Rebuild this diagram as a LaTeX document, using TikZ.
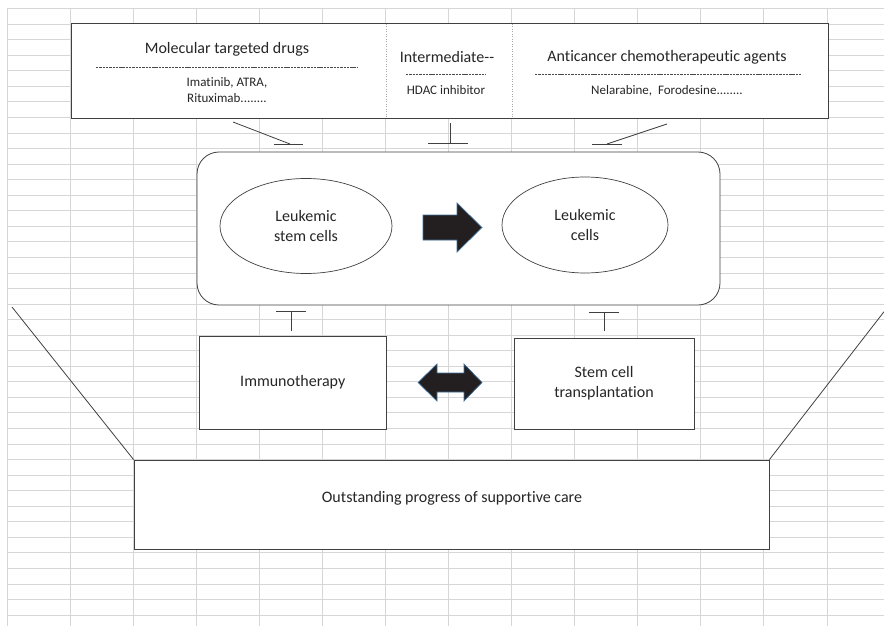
\documentclass[tikz,border=0pt]{standalone}
\usepackage{fontspec}
\setmainfont[Ligatures=NoCommon]{Carlito}
\usetikzlibrary{shapes.geometric}
\definecolor{gridc}{HTML}{D6D6D6}
\definecolor{linec}{HTML}{404040}
\definecolor{txtc}{HTML}{262626}
\definecolor{arrfill}{HTML}{231F20}
\definecolor{arrline}{HTML}{41719C}
\begin{document}
\begin{tikzpicture}[x=1pt,y=-1pt,
  gridline/.style={draw=gridc,line width=0.9pt},
  boxline/.style={draw=linec,line width=0.9pt},
  divider/.style={draw=gray!70,line width=0.5pt,dotted},
  sepline/.style={draw=txtc!85,line width=0.6pt,dash pattern=on 2.4pt off 0.9pt},
  conn/.style={draw=linec,line width=0.8pt},
  topbox/.style={rectangle,fill=white,inner sep=0pt,draw=none},
  bigtxt/.style={text=txtc,font=\fontsize{16}{20}\selectfont,inner sep=0pt,align=center},
  smalltxt/.style={text=txtc,font=\fontsize{13}{16}\selectfont,inner sep=0pt,align=center},
  plainbox/.style={rectangle,fill=white,boxline,inner sep=0pt,text=txtc,font=\fontsize{16}{20}\selectfont,align=center},
  cellshape/.style={ellipse,fill=white,draw=linec,line width=0.7pt,inner sep=0pt,text=txtc,font=\fontsize{16}{20}\selectfont,align=center},
  fatarrow/.style={fill=arrfill,draw=arrline,line width=0.7pt}
]
\useasboundingbox (0,0) rectangle (884,626);
\fill[white] (0,0) rectangle (884,626);
% spreadsheet grid
\foreach \k in {0,...,13} \draw[gridline] ({7+63.077*\k},8.6) -- ({7+63.077*\k},626);
\foreach \k in {0,...,39} \draw[gridline] (7,{8.6+15.55*\k}) -- (884,{8.6+15.55*\k});

% top boxes
\node[topbox,minimum width=314,minimum height=94] (mol) at (229,71) {};
\node[topbox,minimum width=126,minimum height=94] (mid) at (449,71) {};
\node[topbox,minimum width=316,minimum height=94] (anti) at (670,71) {};
\draw[boxline] (mol.north west) rectangle (anti.south east);
\draw[divider] (mid.north west) -- (mid.south west);
\draw[divider] (mid.north east) -- (mid.south east);

\node[bigtxt] (molt) at (227,49) {Molecular targeted drugs};
\draw[sepline] (96,67) -- (357,67);
\node[smalltxt] (mold) at (227,90) {Imatinib, ATRA,\\Rituximab........};

\node[bigtxt] (midt) at (447,57) {Intermediate-{}-};
\draw[sepline] (406,74) -- (486,74);
\node[smalltxt] (midd) at (446,90) {HDAC inhibitor};

\node[bigtxt] (antit) at (667,57) {Anticancer chemotherapeutic agents};
\draw[sepline] (535,74) -- (801,74);
\node[smalltxt] (antid) at (667,91) {Nelarabine,\ \ Forodesine........};

% core rounded box
\node[rectangle,fill=white,draw=linec,line width=0.8pt,rounded corners=22pt,minimum width=523,minimum height=153,inner sep=0pt] (core) at (458.5,228.5) {};
\node[cellshape,minimum width=172,minimum height=95] (lsc) at (306,226) {Leukemic\\stem cells};
\node[cellshape,minimum width=166,minimum height=96] (lc) at (585,225) {Leukemic\\cells};
\draw[fatarrow] (423,215) -- (457,215) -- (457,203) -- (482,227.5) -- (457,252) -- (457,240) -- (423,240) -- cycle;

% inhibition bars from top
\coordinate (i1a) at (233,122); \coordinate (i1b) at (290,144);
\draw[conn] (i1a) -- (i1b);
\draw[conn] (274,144) -- (303,144);
\coordinate (i2a) at (450,123); \coordinate (i2b) at (450,143);
\draw[conn] (i2a) -- (i2b);
\draw[conn] (428,143) -- (468,143);
\coordinate (i3a) at (667,124); \coordinate (i3b) at (607,144);
\draw[conn] (i3a) -- (i3b);
\draw[conn] (592,144) -- (622,144);

% lower boxes
\node[plainbox,minimum width=187,minimum height=93] (immu) at (292.75,382.5) {Immunotherapy};
\node[plainbox,minimum width=180,minimum height=91] (sct) at (604,383.5) {Stem cell\\transplantation};
\draw[fatarrow] (418,382.5) -- (437,364) -- (437,373) -- (464,373) -- (464,364) -- (482,382.5) -- (464,401) -- (464,392) -- (437,392) -- (437,401) -- cycle;

% inhibition bars from below
\coordinate (j1a) at (291,331); \coordinate (j1b) at (291,311);
\draw[conn] (j1a) -- (j1b);
\draw[conn] (276,311) -- (306,311);
\coordinate (j2a) at (604,331); \coordinate (j2b) at (604,312);
\draw[conn] (j2a) -- (j2b);
\draw[conn] (589,312) -- (619,312);

% bottom box
\node[plainbox,minimum width=635,minimum height=89] (care) at (451.5,504.5) {};
\node[bigtxt] (caret) at (452,498) {Outstanding progress of supportive care};
\coordinate (lt) at (12,307);
\coordinate (rt) at (884,311.7);
\draw[conn] (lt) -- (care.north west);
\draw[conn] (rt) -- (care.north east);
\end{tikzpicture}
\end{document}
